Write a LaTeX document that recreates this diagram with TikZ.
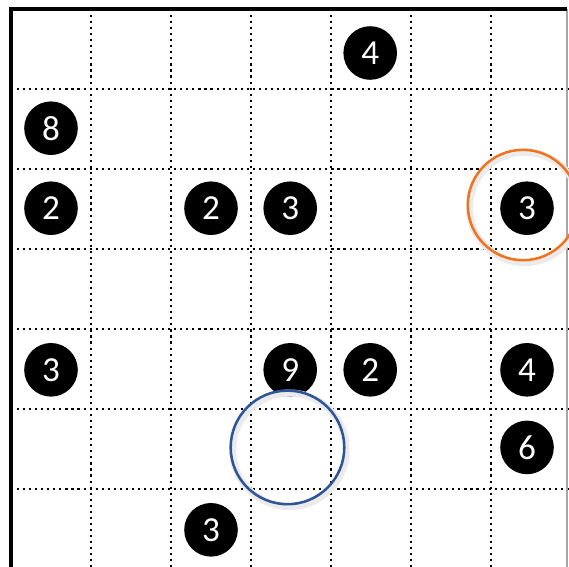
\documentclass[tikz,border=0pt]{standalone}
\usepackage{fontspec}
\setmainfont{Carlito}
\definecolor{ringorange}{RGB}{240,115,30}
\definecolor{ringblue}{RGB}{47,85,151}
\tikzset{
  disk/.style={circle, fill=black, minimum size=0.67cm, inner sep=0pt,
    text=white, font=\fontsize{12.5}{14}\selectfont},
  ring/.style={line width=0.9pt},
  gridline/.style={line width=0.75pt, dash pattern=on 0.75pt off 1.4pt}
}
\begin{document}
\begin{tikzpicture}[x=1cm, y=-1cm]
\useasboundingbox (-0.1375,-0.1125) rectangle (6.975,6.9625);
\clip (-0.1375,-0.1125) rectangle (6.975,6.9625);
% dotted cells
\foreach \k in {1,...,6} {
  \draw[gridline] (\k,0) -- (\k,7);
  \draw[gridline] (0,\k) -- (7,\k);
}
\draw[black!35, line width=0.4pt] (6.95,0) -- (6.95,7);
\draw[line width=1.4pt] (0,7) -- (0,0) -- (6.95,0);
% numbered disks
\node[disk] (d1) at (4.49,0.55) {4};
\node[disk] (d2) at (0.5,1.49) {8};
\node[disk] (d3) at (0.5,2.49) {2};
\node[disk] (d4) at (2.5,2.49) {2};
\node[disk] (d5) at (3.49,2.49) {3};
\node[disk] (d6) at (6.45,2.49) {3};
\node[disk] (d7) at (0.5,4.51) {3};
\node[disk] (d8) at (3.49,4.51) {9};
\node[disk] (d9) at (4.49,4.51) {2};
\node[disk] (d10) at (6.45,4.51) {4};
\node[disk] (d11) at (6.45,5.48) {6};
\node[disk] (d12) at (2.5,6.51) {3};
% marker rings
\draw[black!8, line width=2.5pt] (6.42,2.48) circle (0.69);
\draw[ring, ringorange] (6.4,2.45) circle (0.69);
\draw[black!8, line width=2.5pt] (3.48,5.51) circle (0.71);
\draw[ring, ringblue] (3.456,5.48) circle (0.71);
\end{tikzpicture}
\end{document}
